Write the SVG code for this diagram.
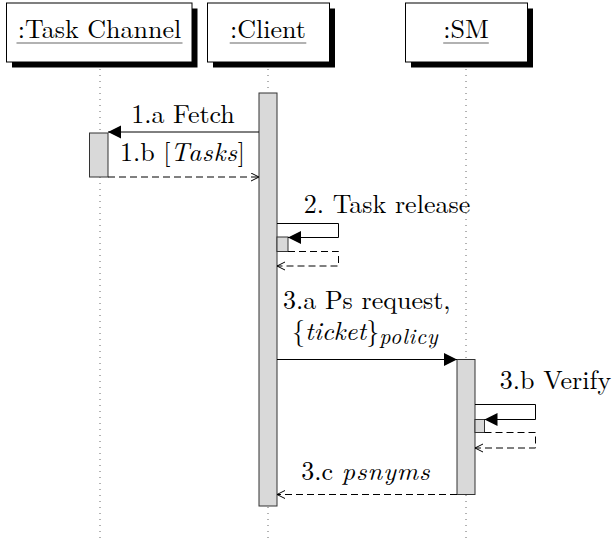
<svg xmlns="http://www.w3.org/2000/svg" width="613" height="540" viewBox="0 0 613 540">
<defs>
<style>
.t{font-family:'Latin Modern Roman','Liberation Serif',serif;font-size:26px;fill:#000}
.m{text-anchor:middle}
.i{font-style:italic}
.sub{font-size:22px;font-style:italic;letter-spacing:0.8px}
.box{fill:#fff;stroke:#000;stroke-width:1}
.shadow{fill:#000}
.ul{stroke:#666;stroke-width:1.2}
.life{stroke:#666;stroke-width:1;stroke-dasharray:1 5;fill:none}
.act{fill:#d9d9d9;stroke:#333;stroke-width:1}
.msg{stroke:#000;stroke-width:1;fill:none}
.ret{stroke:#000;stroke-width:1;fill:none;stroke-dasharray:7 4}
</style>
<marker id="fill" markerUnits="userSpaceOnUse" markerWidth="14" markerHeight="14" refX="13" refY="6.5" orient="auto">
<path d="M0,0 L13,6.5 L0,13 z" fill="#000"/>
</marker>
<marker id="open" markerUnits="userSpaceOnUse" markerWidth="10" markerHeight="10" refX="8.5" refY="4.5" orient="auto">
<path d="M0.5,0.5 L8.5,4.5 L0.5,8.5" fill="none" stroke="#000" stroke-width="1"/>
</marker>
</defs>
<rect width="613" height="540" fill="#fff"/>

<g id="task-channel">
<line class="life" x1="100" y1="69" x2="100" y2="540"/>
<rect class="shadow" x="12" y="8.5" width="185.5" height="59"/>
<rect class="box" x="6.5" y="3" width="185.5" height="59"/>
<text class="t m" x="99.5" y="38">:Task Channel</text>
<line class="ul" x1="16.5" y1="43" x2="182.5" y2="43"/>
<rect class="act" x="89.5" y="133" width="18.5" height="44"/>
</g>

<g id="client">
<line class="life" x1="268" y1="69" x2="268" y2="540"/>
<rect class="shadow" x="213" y="8.5" width="122" height="59"/>
<rect class="box" x="207.5" y="3" width="122" height="59"/>
<text class="t m" x="268" y="38">:Client</text>
<line class="ul" x1="229.7" y1="43" x2="306.3" y2="43"/>
<rect class="act" x="259" y="93" width="18" height="413"/>
<rect class="act" x="277" y="237" width="11" height="14.5"/>
</g>

<g id="sm">
<line class="life" x1="466" y1="69" x2="466" y2="540"/>
<rect class="shadow" x="411" y="8.5" width="122" height="59"/>
<rect class="box" x="405.5" y="3" width="122" height="59"/>
<text class="t m" x="466" y="38">:SM</text>
<line class="ul" x1="443.2" y1="43" x2="488.8" y2="43"/>
<rect class="act" x="457" y="359.5" width="18" height="135"/>
<rect class="act" x="475" y="419.5" width="9.5" height="13"/>
</g>

<g id="connectors">
<line class="msg" x1="259" y1="132" x2="108" y2="132" marker-end="url(#fill)"/>
<text class="t m" x="183" y="123">1.a Fetch</text>

<line class="ret" x1="108" y1="177" x2="259" y2="177" marker-end="url(#open)"/>
<text class="t m" x="182.5" y="161">1.b [<tspan class="i" letter-spacing="0.8">Tasks</tspan>]</text>

<path class="msg" d="M277,223.5 H338.5 V237.5 H288" marker-end="url(#fill)"/>
<path class="ret" d="M288,251.5 H338.5 V266 H277" marker-end="url(#open)"/>
<text class="t m" x="387" y="213">2. Task release</text>

<line class="msg" x1="277" y1="359.5" x2="457" y2="359.5" marker-end="url(#fill)"/>
<text class="t" x="283" y="309">3.a Ps request,<tspan x="292" dy="31">{</tspan><tspan class="i">ticket</tspan>}<tspan class="sub" dy="4">policy</tspan></text>

<path class="msg" d="M475,404.5 H535.5 V419.5 H484.5" marker-end="url(#fill)"/>
<path class="ret" d="M484.5,432.5 H535.5 V448 H475" marker-end="url(#open)"/>
<text class="t m" x="555.5" y="389">3.b Verify</text>

<line class="ret" x1="457" y1="494.5" x2="277" y2="494.5" marker-end="url(#open)"/>
<text class="t m" x="366" y="480">3.c <tspan class="i" letter-spacing="1">psnyms</tspan></text>
</g>
</svg>
